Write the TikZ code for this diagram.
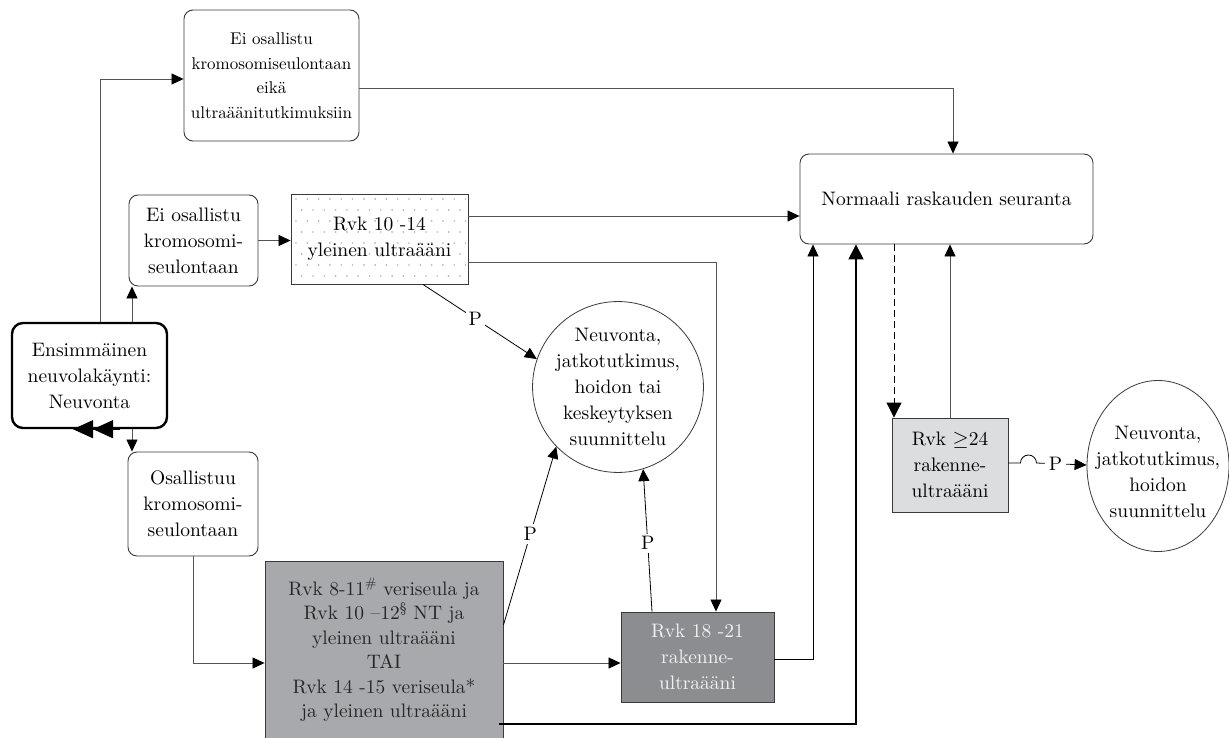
\documentclass[tikz,border=0pt]{standalone}
\usepackage{fontspec}
\setmainfont{lmroman10-regular}[Extension=.otf, BoldFont=lmroman10-bold]
\usetikzlibrary{arrows.meta,shapes.geometric,calc}
\definecolor{boxline}{HTML}{3A3A3A}
\definecolor{conncol}{HTML}{555555}
\definecolor{dotcol}{HTML}{B5B5B5}
\definecolor{greyA}{HTML}{A7A9AC}
\definecolor{greyB}{HTML}{8C8D90}
\definecolor{greyC}{HTML}{DCDDDE}
\begin{document}
\begin{tikzpicture}[x=1pt,y=-1pt,
  font=\fontsize{19.5}{26}\selectfont,
  roundbox/.style={draw=boxline, line width=0.9pt, rounded corners=9pt, align=center, inner sep=2pt},
  sqbox/.style={draw=boxline, line width=0.9pt, align=center, inner sep=2pt},
  tip/.style={-{Triangle[length=12pt,width=11pt,color=black]}},
  bigtip/.style={-{Triangle[length=15pt,width=15pt,color=black]}},
  conn/.style={draw=conncol, line width=0.8pt, tip},
  plabel/.style={fill=white, inner sep=3pt, text=black}
]
\useasboundingbox (0,0) rectangle (1229,738);

% dotted fill of the first-trimester ultrasound box
\begin{scope}
  \clip (291,194) rectangle (468,284);
  \foreach \r in {0,...,8} {
    \foreach \c in {0,...,16} {
      \fill[dotcol] ({296+\c*11.3+mod(\r,2)*5.65},{199+\r*11}) circle (0.95);
    }
  }
\end{scope}

% boxes
\node[roundbox, minimum width=175pt, minimum height=131pt,
      font=\fontsize{17}{24.5}\selectfont] (top) at (271.5,75.5)
  {Ei osallistu\\kromosomiseulontaan\\eikä\\ultraäänitutkimuksiin};
\node[roundbox, minimum width=129pt, minimum height=91pt] (eino) at (193.5,240.5)
  {Ei osallistu\\kromosomi-\\seulontaan};
\node[sqbox, minimum width=177pt, minimum height=90pt] (dotbox) at (379.5,239)
  {Rvk 10 -14\\yleinen ultraääni};
\node[draw=black, line width=2.4pt, rounded corners=11pt, align=center,
      minimum width=155pt, minimum height=105pt] (ens) at (89.5,375.5)
  {Ensimmäinen\\neuvolakäynti:\\Neuvonta};
\node[roundbox, minimum width=130pt, minimum height=104pt] (osal) at (193,504)
  {Osallistuu\\kromosomi-\\seulontaan};
\node[sqbox, fill=greyA, text=black!85, minimum width=238pt, minimum height=178pt,
      font=\fontsize{19.5}{24.5}\selectfont] (grey) at (384,650)
  {Rvk 8-11\textsuperscript{\#} veriseula ja\\Rvk 10 –12\textsuperscript{§} NT ja\\yleinen ultraääni\\TAI\\Rvk 14 -15 veriseula*\\ja yleinen ultraääni};
\node[sqbox, fill=greyB, text=white!95!black, minimum width=153pt, minimum height=90pt] (r1821) at (697.5,657)
  {Rvk 18 -21\\rakenne-\\ultraääni};
\node[roundbox, minimum width=293pt, minimum height=90pt] (norm) at (946.5,199)
  {Normaali raskauden seuranta};
\node[circle, draw=boxline, line width=0.8pt, minimum size=168pt, inner sep=0pt, align=center] (circ) at (618,387)
  {Neuvonta,\\jatkotutkimus,\\hoidon tai\\keskeytyksen\\suunnittelu};
\node[sqbox, fill=greyC, minimum width=116pt, minimum height=94pt] (r24) at (950,465)
  {Rvk $\geq$24\\rakenne-\\ultraääni};
\node[ellipse, draw=boxline, line width=0.8pt, minimum width=142pt, minimum height=171pt,
      inner sep=0pt] (ell) at (1158,466) {};
\node[align=center, inner sep=0pt] (elltext) at ([yshift=-6pt]ell.center)
  {Neuvonta,\\jatkotutkimus,\\hoidon\\suunnittelu};

% connectors from the first visit
\draw[conn] ([xshift=10.5pt]ens.north) |- ([yshift=-3.5pt]top.west);
\draw[conn] ([xshift=42.5pt]ens.north) -- ([xshift=42.5pt]ens.north |- eino.south);
\draw[conn] ([xshift=42.5pt]ens.south) -- ([xshift=42.5pt]ens.south |- osal.north);
\draw[draw=black, line width=0.8pt,
      -{Triangle[length=20pt,width=18pt]Triangle[length=20pt,width=18pt]}]
  ([xshift=30pt]ens.south) -- ([xshift=-16.5pt]ens.south);

% upper branches
\draw[conn] (eino.east) -- (eino.east -| dotbox.west);
\draw[conn] ([yshift=-12.5pt]top.east) -| ([xshift=6.5pt]norm.north);
\draw[conn] ([yshift=23pt]dotbox.east) -- ([yshift=23pt]dotbox.east -| norm.west);
\draw[conn] ([yshift=-23pt]dotbox.east) -| ([xshift=18.5pt]r1821.north);
\draw[conn, draw=black] ([xshift=43.5pt]dotbox.south) -- node[plabel, pos=0.46] {P} (circ.161);

% screening branch
\draw[conn] (osal.south) |- ([yshift=-13pt]grey.west);
\draw[conn, draw=black] ([yshift=25pt]grey.east) -- node[plabel, pos=0.51] {P} (circ.224);
\draw[conn, draw=black] ([xshift=-45.5pt]r1821.north) -- node[plabel, pos=0.48] {P} (circ.287);
\draw[conn] ([yshift=-13pt]grey.east) -- ([yshift=-13pt]grey.east -| r1821.west);
\draw[conn, draw=black] ([yshift=-2pt]r1821.east) -| ([xshift=-133.5pt]norm.south);
\draw[draw=black, line width=1.6pt, bigtip] ([xshift=-4pt,yshift=-74pt]grey.east) -| ([xshift=-90.5pt]norm.south);

% late ultrasound
\draw[draw=black, line width=1pt, dash pattern=on 7pt off 4pt, bigtip]
  ([xshift=-52.5pt]norm.south) -- ([xshift=-52.5pt]norm.south |- r24.north);
\draw[conn] (r24.north) -- (r24.north |- norm.south);
\draw[conn, draw=black] ([yshift=2pt]r24.east) -- ++(12,0) arc[start angle=180, end angle=360, radius=8]
  -- node[plabel, pos=0.38, inner sep=4pt] {P} ([yshift=1pt]ell.west);

\end{tikzpicture}
\end{document}
